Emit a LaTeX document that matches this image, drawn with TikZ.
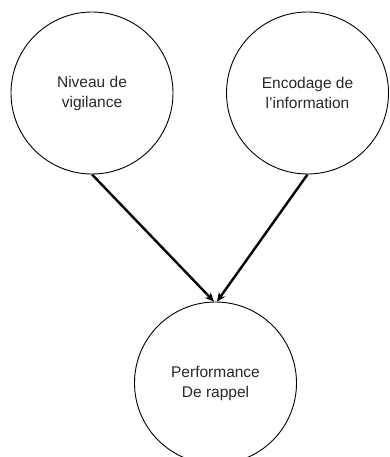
\documentclass[tikz,border=0pt]{standalone}
\usepackage{fontspec}
\setmainfont{Liberation Sans}
\usepackage{xcolor}
\usetikzlibrary{arrows.meta}
\definecolor{diagramText}{RGB}{40, 40, 40}

\begin{document}
\begin{tikzpicture}[x=1pt, y=1pt]
            \tikzstyle{concept} = [draw=black, line width=0.9pt, circle, minimum size=162pt, inner sep=0pt, align=center, font=\fontsize{15.5}{20}\selectfont, text=diagramText]
            \tikzstyle{arrow} = [-{Stealth[length=9pt, width=8pt]}, line width=2.4pt, black]

            \useasboundingbox (0,0) rectangle (389,-457);

            \node[concept] (vigilance) at (92,-93) {Niveau de\\vigilance};
            \node[concept] (encodage) at (307.5,-93) {Encodage de\\l'information};
            \node[concept] (rappel) at (215.5,-383) {Performance\\De rappel};

            \draw[arrow] (vigilance.south) -- ([xshift=-1.5pt]rappel.north);
            \draw[arrow] (encodage.south) -- ([xshift=1.5pt]rappel.north);
        \end{tikzpicture}
\end{document}
